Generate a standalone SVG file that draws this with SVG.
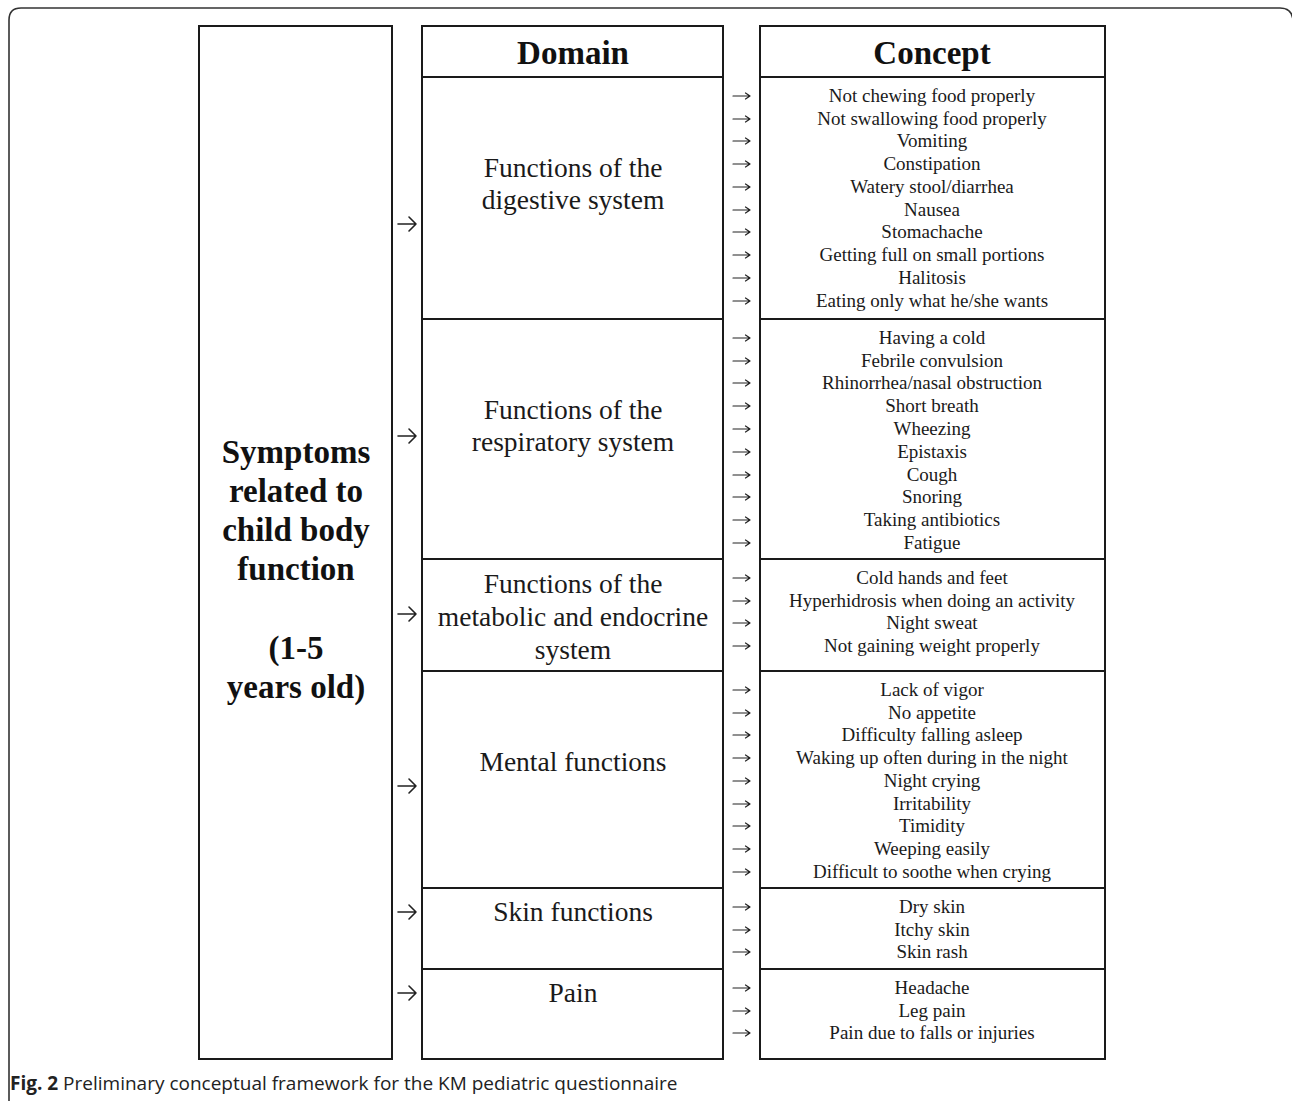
<svg xmlns="http://www.w3.org/2000/svg" width="1292" height="1103" viewBox="0 0 1292 1103">
<style>
.box{fill:#fff;stroke:#1a1a1a;stroke-width:2}
.hd{font-family:"Liberation Serif",serif;font-weight:bold;font-size:33px;fill:#111;text-anchor:middle}
.dom{font-family:"Liberation Serif",serif;font-size:27.5px;fill:#1a1a1a;text-anchor:middle}
.con{font-family:"Liberation Serif",serif;font-size:19px;fill:#1a1a1a;text-anchor:middle}
.la{fill:none;stroke:#222;stroke-width:1.6;stroke-linecap:round;stroke-linejoin:round}
.ma{fill:none;stroke:#222;stroke-width:1.2;stroke-linecap:round;stroke-linejoin:round}
.cap{font-family:"Open Sans",sans-serif;font-size:19px;fill:#222}
</style>
<defs>
<path id="arr" class="ma" d="M733,0 H750 M745.5,-3 L750,0 L745.5,3"/>
</defs>
<rect width="1292" height="1103" fill="#fff"/>
<path d="M9,1101 L9,20 Q9,8 21,8 L1280,8 Q1292,8 1293,20" fill="none" stroke="#333" stroke-width="1.6"/>

<g id="root">
<rect class="box" x="199" y="26" width="193" height="1033"/>
<text class="hd" x="296" y="463">Symptoms</text>
<text class="hd" x="296" y="502">related to</text>
<text class="hd" x="296" y="541">child body</text>
<text class="hd" x="296" y="580">function</text>
<text class="hd" x="296" y="659">(1-5</text>
<text class="hd" x="296" y="698">years old)</text>
</g>

<g id="domain-header">
<rect class="box" x="422" y="26" width="301" height="51"/>
<text class="hd" x="573" y="64">Domain</text>
</g>
<g id="concept-header">
<rect class="box" x="760" y="26" width="345" height="51"/>
<text class="hd" x="932" y="64">Concept</text>
</g>

<g id="domain-digestive">
<rect class="box" x="422" y="77" width="301" height="242"/>
<text class="dom" x="573" y="177">Functions of the</text>
<text class="dom" x="573" y="209">digestive system</text>
</g>
<g id="domain-respiratory">
<rect class="box" x="422" y="319" width="301" height="240"/>
<text class="dom" x="573" y="419">Functions of the</text>
<text class="dom" x="573" y="451">respiratory system</text>
</g>
<g id="domain-metabolic">
<rect class="box" x="422" y="559" width="301" height="112"/>
<text class="dom" x="573" y="593">Functions of the</text>
<text class="dom" x="573" y="626">metabolic and endocrine</text>
<text class="dom" x="573" y="659">system</text>
</g>
<g id="domain-mental">
<rect class="box" x="422" y="671" width="301" height="217"/>
<text class="dom" x="573" y="771">Mental functions</text>
</g>
<g id="domain-skin">
<rect class="box" x="422" y="888" width="301" height="81"/>
<text class="dom" x="573" y="921">Skin functions</text>
</g>
<g id="domain-pain">
<rect class="box" x="422" y="969" width="301" height="90"/>
<text class="dom" x="573" y="1002">Pain</text>
</g>

<g id="concept-digestive">
<rect class="box" x="760" y="77" width="345" height="242"/>
<text class="con" x="932" y="102">Not chewing food properly</text>
<text class="con" x="932" y="125">Not swallowing food properly</text>
<text class="con" x="932" y="147">Vomiting</text>
<text class="con" x="932" y="170">Constipation</text>
<text class="con" x="932" y="193">Watery stool/diarrhea</text>
<text class="con" x="932" y="216">Nausea</text>
<text class="con" x="932" y="238">Stomachache</text>
<text class="con" x="932" y="261">Getting full on small portions</text>
<text class="con" x="932" y="284">Halitosis</text>
<text class="con" x="932" y="307">Eating only what he/she wants</text>
</g>
<g id="concept-respiratory">
<rect class="box" x="760" y="319" width="345" height="240"/>
<text class="con" x="932" y="344">Having a cold</text>
<text class="con" x="932" y="367">Febrile convulsion</text>
<text class="con" x="932" y="389">Rhinorrhea/nasal obstruction</text>
<text class="con" x="932" y="412">Short breath</text>
<text class="con" x="932" y="435">Wheezing</text>
<text class="con" x="932" y="458">Epistaxis</text>
<text class="con" x="932" y="481">Cough</text>
<text class="con" x="932" y="503">Snoring</text>
<text class="con" x="932" y="526">Taking antibiotics</text>
<text class="con" x="932" y="549">Fatigue</text>
</g>
<g id="concept-metabolic">
<rect class="box" x="760" y="559" width="345" height="112"/>
<text class="con" x="932" y="584">Cold hands and feet</text>
<text class="con" x="932" y="607">Hyperhidrosis when doing an activity</text>
<text class="con" x="932" y="629">Night sweat</text>
<text class="con" x="932" y="652">Not gaining weight properly</text>
</g>
<g id="concept-mental">
<rect class="box" x="760" y="671" width="345" height="217"/>
<text class="con" x="932" y="696">Lack of vigor</text>
<text class="con" x="932" y="719">No appetite</text>
<text class="con" x="932" y="741">Difficulty falling asleep</text>
<text class="con" x="932" y="764">Waking up often during in the night</text>
<text class="con" x="932" y="787">Night crying</text>
<text class="con" x="932" y="810">Irritability</text>
<text class="con" x="932" y="832">Timidity</text>
<text class="con" x="932" y="855">Weeping easily</text>
<text class="con" x="932" y="878">Difficult to soothe when crying</text>
</g>
<g id="concept-skin">
<rect class="box" x="760" y="888" width="345" height="81"/>
<text class="con" x="932" y="913">Dry skin</text>
<text class="con" x="932" y="936">Itchy skin</text>
<text class="con" x="932" y="958">Skin rash</text>
</g>
<g id="concept-pain">
<rect class="box" x="760" y="969" width="345" height="90"/>
<text class="con" x="932" y="994">Headache</text>
<text class="con" x="932" y="1017">Leg pain</text>
<text class="con" x="932" y="1039">Pain due to falls or injuries</text>
</g>

<g id="connectors">
<path class="la" d="M398,224 H416 M409,217 L416,224 L409,231"/>
<path class="la" d="M398,436 H416 M409,429 L416,436 L409,443"/>
<path class="la" d="M398,614 H416 M409,607 L416,614 L409,621"/>
<path class="la" d="M398,786 H416 M409,779 L416,786 L409,793"/>
<path class="la" d="M398,912 H416 M409,905 L416,912 L409,919"/>
<path class="la" d="M398,993 H416 M409,986 L416,993 L409,1000"/>
<use href="#arr" y="96"/>
<use href="#arr" y="119"/>
<use href="#arr" y="141"/>
<use href="#arr" y="164"/>
<use href="#arr" y="187"/>
<use href="#arr" y="210"/>
<use href="#arr" y="232"/>
<use href="#arr" y="255"/>
<use href="#arr" y="278"/>
<use href="#arr" y="301"/>
<use href="#arr" y="338"/>
<use href="#arr" y="361"/>
<use href="#arr" y="383"/>
<use href="#arr" y="406"/>
<use href="#arr" y="429"/>
<use href="#arr" y="452"/>
<use href="#arr" y="475"/>
<use href="#arr" y="497"/>
<use href="#arr" y="520"/>
<use href="#arr" y="543"/>
<use href="#arr" y="578"/>
<use href="#arr" y="601"/>
<use href="#arr" y="623"/>
<use href="#arr" y="646"/>
<use href="#arr" y="690"/>
<use href="#arr" y="713"/>
<use href="#arr" y="735"/>
<use href="#arr" y="758"/>
<use href="#arr" y="781"/>
<use href="#arr" y="804"/>
<use href="#arr" y="826"/>
<use href="#arr" y="849"/>
<use href="#arr" y="872"/>
<use href="#arr" y="907"/>
<use href="#arr" y="930"/>
<use href="#arr" y="952"/>
<use href="#arr" y="988"/>
<use href="#arr" y="1011"/>
<use href="#arr" y="1033"/>
</g>

<text class="cap" x="10" y="1090"><tspan font-weight="bold">Fig. 2</tspan> Preliminary conceptual framework for the KM pediatric questionnaire</text>
</svg>
